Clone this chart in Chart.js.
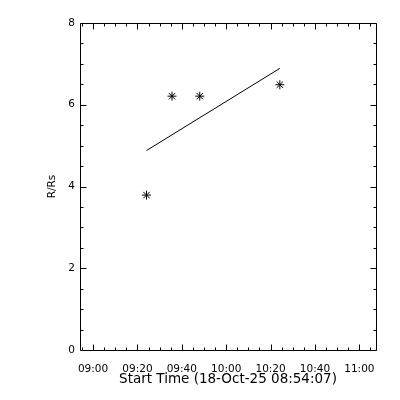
<!DOCTYPE html>
<html>
<head>
<meta charset="utf-8">
<script src="https://cdn.jsdelivr.net/npm/chart.js@4.4.1/dist/chart.umd.min.js"></script>
<style>
  html, body { margin: 0; padding: 0; background: #fff; }
  #wrap { width: 400px; height: 400px; }
</style>
</head>
<body>
<div id="wrap"><canvas id="chart" width="400" height="400"></canvas></div>
<script>
// values
const startTimes = ["09:24:05", "09:35:35", "09:48:05", "10:24:10"];
const heights = [3.79, 6.21, 6.21, 6.49];
const fitTimes = ["09:24:05", "10:24:10"];
const fitHeights = [4.88, 6.89];
const xTickLabels = ["09:00", "09:20", "09:40", "10:00", "10:20", "10:40", "11:00"];
const yTickLabels = ["0", "2", "4", "6", "8"];
const xStart = "08:54:07";
const xEnd = "11:07:30";

function toMin(s) {
  const p = s.split(":").map(Number);
  return p[0] * 60 + p[1] + (p[2] || 0) / 60;
}

const FONT = "'DejaVu Sans', sans-serif";

// IDL style box with inward ticks on all four sides
const boxTicks = {
  id: "boxTicks",
  afterDraw(chart) {
    const { ctx, chartArea: a, scales: { x, y } } = chart;
    const L = Math.round(a.left) + 0.5, R = Math.round(a.right) + 0.5;
    const T = Math.round(a.top) + 0.5, B = Math.round(a.bottom) + 0.5;
    ctx.save();
    ctx.strokeStyle = "#000";
    ctx.lineWidth = 1;
    ctx.beginPath();
    ctx.rect(L, T, R - L, B - T);
    for (let m = Math.ceil(x.min / 5) * 5; m <= x.max; m += 5) {
      const px = Math.round(x.getPixelForValue(m)) + 0.5;
      const len = m % 20 === 0 ? 6 : 3;
      ctx.moveTo(px, B); ctx.lineTo(px, B - len);
      ctx.moveTo(px, T); ctx.lineTo(px, T + len);
    }
    for (let v = y.min; v <= y.max; v += 0.5) {
      const py = Math.round(y.getPixelForValue(v)) + 0.5;
      const len = v % 2 === 0 ? 6 : 3;
      ctx.moveTo(L, py); ctx.lineTo(L + len, py);
      ctx.moveTo(R, py); ctx.lineTo(R - len, py);
    }
    ctx.stroke();
    ctx.restore();
  }
};

new Chart(document.getElementById("chart"), {
  type: "scatter",
  data: {
    datasets: [
      {
        data: startTimes.map((t, i) => ({ x: toMin(t), y: heights[i] })),
        pointStyle: "star",
        pointRadius: 4.5,
        borderColor: "#000",
        backgroundColor: "#000",
        borderWidth: 1,
        showLine: false
      },
      {
        data: fitTimes.map((t, i) => ({ x: toMin(t), y: fitHeights[i] })),
        showLine: true,
        pointRadius: 0,
        borderColor: "#000",
        borderWidth: 1
      }
    ]
  },
  options: {
    responsive: false,
    animation: false,
    devicePixelRatio: 1,
    layout: { padding: { top: 23, right: 24, left: 0, bottom: 0 } },
    plugins: { legend: { display: false }, tooltip: { enabled: false } },
    scales: {
      x: {
        type: "linear",
        min: toMin(xStart),
        max: toMin(xEnd),
        grid: { display: false, drawTicks: false },
        border: { display: false },
        afterBuildTicks: (s) => { s.ticks = xTickLabels.map((l) => ({ value: toMin(l) })); },
        afterFit: (s) => { s.height = 50; },
        ticks: {
          color: "#000",
          padding: 13,
          maxRotation: 0,
          autoSkip: false,
          font: { family: FONT, size: 10.5 },
          callback: (v, i) => xTickLabels[i]
        },
        title: {
          display: true,
          text: "Start Time (18-Oct-25 08:54:07)",
          color: "#000",
          font: { family: FONT, size: 13.5 },
          padding: { top: 0, bottom: 12 }
        }
      },
      y: {
        type: "linear",
        min: 0,
        max: 8,
        grid: { display: false, drawTicks: false },
        border: { display: false },
        afterBuildTicks: (s) => { s.ticks = yTickLabels.map((l) => ({ value: Number(l) })); },
        afterFit: (s) => { s.width = 80; },
        ticks: {
          color: "#000",
          padding: 5,
          font: { family: FONT, size: 10.5 },
          callback: (v, i) => yTickLabels[i]
        },
        title: {
          display: true,
          text: "R/Rs",
          color: "#000",
          font: { family: FONT, size: 10.5 },
          padding: { top: 46, bottom: 0 }
        }
      }
    }
  },
  plugins: [boxTicks]
});
</script>
</body>
</html>
